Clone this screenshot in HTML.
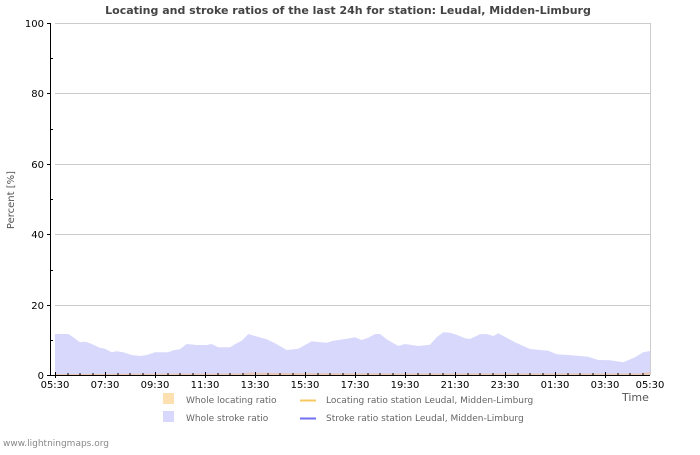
<!DOCTYPE html>
<html><head><meta charset="utf-8"><style>
body{margin:0;background:#fff;}
svg text{font-family:"DejaVu Sans","Liberation Sans",sans-serif;}
</style></head><body>
<svg width="700" height="450" viewBox="0 0 700 450" xmlns="http://www.w3.org/2000/svg">
<rect width="700" height="450" fill="#fff"/>
<text x="348" y="14" text-anchor="middle" font-size="11" font-weight="bold" fill="#444">Locating and stroke ratios of the last 24h for station: Leudal, Midden-Limburg</text>
<g stroke="#ccc" stroke-width="1">
<line x1="55" y1="23.5" x2="650" y2="23.5"/>
<line x1="55" y1="93.5" x2="650" y2="93.5"/>
<line x1="55" y1="164.5" x2="650" y2="164.5"/>
<line x1="55" y1="234.5" x2="650" y2="234.5"/>
<line x1="55" y1="305.5" x2="650" y2="305.5"/>
<line x1="650.5" y1="23" x2="650.5" y2="375"/>
</g>
<path fill="#d8d8fc" d="M55,375 L55,334 L68.3,334 L73.3,337.3 L80,342.3 L85,341.7 L90,343.3 L100,347.7 L105,348.7 L111.7,352.3 L116.7,351.3 L123.3,352.3 L131.7,355 L140,356 L146.7,355 L155,352.3 L168.3,352.3 L173.3,350.3 L180,349.3 L186.7,344 L196.7,345 L206.7,345 L211.7,344 L218.3,347.3 L230,347.3 L236.7,343.3 L241.7,340.7 L248.3,334 L255,336 L266.7,339.3 L275,343.3 L286.7,350 L298.3,348.7 L311.7,341.3 L318.3,342 L326.7,342.7 L333.3,340.7 L346.7,338.7 L355,337.3 L361.7,340 L368.3,337.7 L375,334 L380,334 L386.7,339.3 L398.3,346 L405,344 L418.3,346 L430,344.7 L436.7,337.3 L443.3,332.3 L450,332.7 L456.7,334.7 L465,338.3 L470,339 L480,334.3 L486.7,334 L493.3,336 L498.3,333.3 L515,342.3 L530,349 L548.3,350.7 L556.7,354.3 L571.7,355.3 L588.3,356.7 L598.3,360 L610,360.3 L623.3,362.3 L635,357.3 L643.3,352.3 L650,351 L650,375 Z"/>
<path fill="#e8c8b8" d="M55,375 L55,374 L240,373.5 L250,372.5 L275,373 L400,373.5 L640,373.5 L650,372 L650,375 Z"/>
<line x1="50.5" y1="23" x2="50.5" y2="375" stroke="#000"/>
<line x1="50" y1="375.5" x2="650" y2="375.5" stroke="#000"/>
<g stroke="#000">
<line x1="47" y1="23.5" x2="50" y2="23.5"/><line x1="47" y1="93.5" x2="50" y2="93.5"/><line x1="47" y1="164.5" x2="50" y2="164.5"/><line x1="47" y1="234.5" x2="50" y2="234.5"/><line x1="47" y1="305.5" x2="50" y2="305.5"/><line x1="47" y1="375.5" x2="50" y2="375.5"/>
<line x1="50" y1="58.5" x2="53" y2="58.5"/><line x1="50" y1="129.5" x2="53" y2="129.5"/><line x1="50" y1="199.5" x2="53" y2="199.5"/><line x1="50" y1="270.5" x2="53" y2="270.5"/><line x1="50" y1="340.5" x2="53" y2="340.5"/>
</g>
<g stroke="#000" id="ticks"></g>
<g font-size="10" fill="#000" text-anchor="end">
<text x="44" y="27">100</text><text x="44" y="97">80</text><text x="44" y="168">60</text><text x="44" y="238">40</text><text x="44" y="309">20</text><text x="44" y="379">0</text>
</g>
<g font-size="10" fill="#000" text-anchor="middle">
<text x="55" y="388">05:30</text><text x="105" y="388">07:30</text><text x="155" y="388">09:30</text><text x="205" y="388">11:30</text><text x="255" y="388">13:30</text><text x="305" y="388">15:30</text><text x="355" y="388">17:30</text><text x="405" y="388">19:30</text><text x="455" y="388">21:30</text><text x="505" y="388">23:30</text><text x="555" y="388">01:30</text><text x="605" y="388">03:30</text><text x="650" y="388">05:30</text>
</g>
<text x="14" y="200" font-size="10" fill="#555" text-anchor="middle" transform="rotate(-90 14 200)">Percent   [%]</text>
<text x="622" y="401" font-size="11" fill="#555">Time</text>
<rect x="163" y="393" width="11" height="11" fill="#fde0b0"/>
<rect x="163" y="411" width="11" height="11" fill="#d8d8fc"/>
<line x1="300" y1="400.5" x2="316" y2="400.5" stroke="#f8c860" stroke-width="2"/>
<line x1="300" y1="418.5" x2="316" y2="418.5" stroke="#7070f0" stroke-width="2"/>
<g font-size="9" fill="#666">
<text x="186" y="403">Whole locating ratio</text>
<text x="186" y="421">Whole stroke ratio</text>
<text x="326" y="403">Locating ratio station Leudal, Midden-Limburg</text>
<text x="326" y="421">Stroke ratio station Leudal, Midden-Limburg</text>
</g>
<text x="3" y="446" font-size="9" fill="#888">www.lightningmaps.org</text>
<g stroke="#000">
<line x1="55.5" y1="372" x2="55.5" y2="378"/><line x1="105.5" y1="372" x2="105.5" y2="378"/><line x1="155.5" y1="372" x2="155.5" y2="378"/><line x1="205.5" y1="372" x2="205.5" y2="378"/><line x1="255.5" y1="372" x2="255.5" y2="378"/><line x1="305.5" y1="372" x2="305.5" y2="378"/><line x1="355.5" y1="372" x2="355.5" y2="378"/><line x1="405.5" y1="372" x2="405.5" y2="378"/><line x1="455.5" y1="372" x2="455.5" y2="378"/><line x1="505.5" y1="372" x2="505.5" y2="378"/><line x1="555.5" y1="372" x2="555.5" y2="378"/><line x1="605.5" y1="372" x2="605.5" y2="378"/>
</g>
<g stroke="#000">
<line x1="68" y1="373" x2="68" y2="375"/><line x1="80" y1="373" x2="80" y2="375"/><line x1="93" y1="373" x2="93" y2="375"/>
<line x1="118" y1="373" x2="118" y2="375"/><line x1="130" y1="373" x2="130" y2="375"/><line x1="143" y1="373" x2="143" y2="375"/>
<line x1="168" y1="373" x2="168" y2="375"/><line x1="180" y1="373" x2="180" y2="375"/><line x1="193" y1="373" x2="193" y2="375"/>
<line x1="218" y1="373" x2="218" y2="375"/><line x1="230" y1="373" x2="230" y2="375"/><line x1="243" y1="373" x2="243" y2="375"/>
<line x1="268" y1="373" x2="268" y2="375"/><line x1="280" y1="373" x2="280" y2="375"/><line x1="293" y1="373" x2="293" y2="375"/>
<line x1="318" y1="373" x2="318" y2="375"/><line x1="330" y1="373" x2="330" y2="375"/><line x1="343" y1="373" x2="343" y2="375"/>
<line x1="368" y1="373" x2="368" y2="375"/><line x1="380" y1="373" x2="380" y2="375"/><line x1="393" y1="373" x2="393" y2="375"/>
<line x1="418" y1="373" x2="418" y2="375"/><line x1="430" y1="373" x2="430" y2="375"/><line x1="443" y1="373" x2="443" y2="375"/>
<line x1="468" y1="373" x2="468" y2="375"/><line x1="480" y1="373" x2="480" y2="375"/><line x1="493" y1="373" x2="493" y2="375"/>
<line x1="518" y1="373" x2="518" y2="375"/><line x1="530" y1="373" x2="530" y2="375"/><line x1="543" y1="373" x2="543" y2="375"/>
<line x1="568" y1="373" x2="568" y2="375"/><line x1="580" y1="373" x2="580" y2="375"/><line x1="593" y1="373" x2="593" y2="375"/>
<line x1="618" y1="373" x2="618" y2="375"/><line x1="630" y1="373" x2="630" y2="375"/><line x1="643" y1="373" x2="643" y2="375"/>
</g>
</svg>
</body></html>
